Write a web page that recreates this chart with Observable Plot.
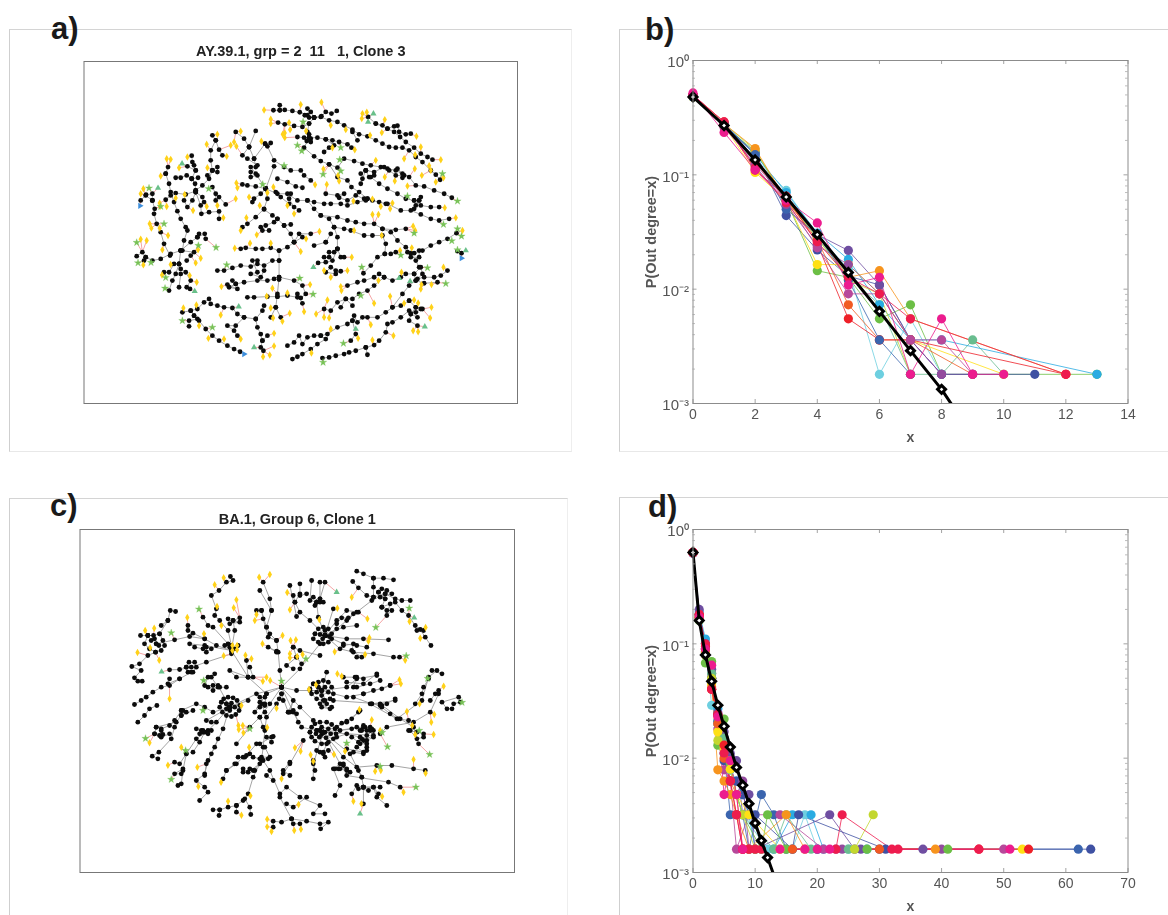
<!DOCTYPE html>
<html>
<head>
<meta charset="utf-8">
<script src="https://cdn.jsdelivr.net/npm/d3@7"></script>
<script src="https://cdn.jsdelivr.net/npm/@observablehq/plot@0.6"></script>
<style>
html,body{margin:0;padding:0;background:#fff;}
#page{position:relative;width:1168px;height:915px;overflow:hidden;background:#fff;font-family:"Liberation Sans",Arial,sans-serif;}
.panel{position:absolute;box-sizing:border-box;}
.panel svg{display:block;overflow:visible;max-width:none;filter:blur(0.5px);}
.tag{position:absolute;font:bold 31px "Liberation Sans",Arial,sans-serif;color:#1a1a1a;line-height:31px;}
</style>
</head>
<body>
<div id="page"></div>
<script>
// ---------- Panel a: tree branches (x,y pairs) ----------
const aBranches = [
[578,150,597,150,612,149,635,152,657,156,680,165,700,172,720,170,745,180,770,185,790,195,815,208,835,222,860,228,885,240,905,250,925,260,945,262,965,262,985,270,1005,290,1025,305,1050,330,1065,343,1078,358],
[597,135,597,150],[680,145,690,155,700,172],[700,172,722,168,735,155,752,160,768,152],[672,165,685,172,700,172],
[592,187,612,192,640,197,665,200,685,190,700,172],[685,232,680,215,685,190],
[650,230,670,232,685,232,710,232,735,237,755,240,775,245,800,252,812,262],[685,222,690,235,678,242,690,245,685,232],
[685,232,670,262,700,288,720,302,745,312,770,322,790,295,820,302,845,310,870,315,900,320,920,325,945,330,965,340,985,350,1005,375,1030,378,1060,390,1090,400,1113,412],
[730,275,745,262,760,255,735,237],[830,240,815,215],[905,195,885,190,862,170],[885,190,920,205,940,198,950,196,955,215,975,222,990,220],[920,205,940,215,958,230,975,245,1000,262,1020,280,1040,290,1055,298],
[745,312,770,350,800,360,812,380,835,395,860,415,875,420,895,425,915,430],[735,400,770,405,790,400,775,412,800,420,825,405,850,415,860,415],
[840,340,855,330,880,335,910,320],[855,330,845,355,840,370],[855,330,865,350,880,345],[925,330,945,345,970,345,950,325,965,352],
[870,350,895,370,920,385,950,400,975,415,1000,420,1020,435,1050,440,1075,440],[1000,420,1015,420,1005,435,1000,445],[1015,420,1020,410],
[920,430,960,450,990,450,1020,462,1050,475,1075,480,1105,475],
// left top tree
[345,390,343,370,333,355,345,330,340,315,335,305,333,286],[345,330,320,318],[333,355,318,345,300,352,285,352],[333,355,352,352],
[345,392,315,402,285,398,270,405,255,418],[345,390,365,375,385,355,395,330,390,300,390,270,405,240,395,225],[405,240,415,268,425,285],[395,330,410,320,410,335],[395,330,380,345],
[345,395,365,410,370,425],[395,380,405,400,405,420,415,410,435,432],[345,395,335,420,320,440,310,420],[345,395,360,435,362,460,385,455,415,453,415,475],
[255,340,262,320],[255,340,265,370,270,395,280,425,290,452,300,475,315,500,320,510,310,540,305,570],
[300,570,330,545,350,530,372,520,375,535],[350,530,355,520],[300,570,340,575,330,585,318,600],[300,570,270,580,240,595,215,600,195,590,185,575,168,587],[190,600,195,590],
[300,570,295,610,280,610,265,635,250,635],[295,610,285,640,275,660,265,690],[295,610,300,625,315,635,330,660,318,680,328,685],[300,640,295,680],
[215,420,195,405,180,420],[215,420,222,445,220,460,228,490,240,515,250,550,268,585],[196,403,215,400,215,420],
// mid hub
[555,385,525,378,500,375,485,372],[555,385,525,340,510,320,525,320,520,295,505,260,490,235,465,215],[505,260,525,212],[553,250,570,248,560,258,580,300,610,320,630,330,660,330,670,345,690,360],[520,295,553,250],
[555,385,580,318],[555,385,560,415,550,445,525,470,500,490,485,500],[555,385,540,400,520,415,515,425],[510,335,510,350,530,345],[505,260,485,285,500,295,530,315],
[555,385,590,400,620,400,650,420,680,420,700,425,730,430,750,430,780,430,800,435,830,425,855,420],[590,355,620,365,645,378,665,382],[630,400,625,415,640,440],[585,395,600,410,625,430,655,450],
[680,420,700,445,720,465,745,475,760,500,770,530,770,565,760,575,745,575,745,590,730,590],[770,565,755,600,735,605,712,607],[770,565,780,590,790,590],[765,630,750,620,735,635,765,640,780,632],
[720,465,770,470,800,480,825,485,850,490,880,490,905,505,930,515,950,540,975,560,990,578,1005,600,1015,620],
[760,500,790,505,810,510,850,525,875,525,905,525,915,550,912,580,890,590,870,615,848,638],[905,505,945,508,975,505],[1127,518,1100,535,1075,545,1050,555,1025,570,1000,578,1015,570,1015,590,990,590,980,575],[912,580,930,580,945,575],[1142,578,1130,572],
// middle tree
[665,530,640,545,620,560,595,570,570,562,545,565,525,565,495,562,480,565],[595,570,595,600,595,650,590,700,585,740,600,770],[585,740,570,770],[595,600,575,600,550,615,530,610,510,618,480,615,455,622,430,630,410,630],[530,600,515,600,530,635,510,640,540,650,550,630],
[595,657,580,655,560,660,530,660,490,665,465,670,455,660],[465,670,445,680,470,685,440,672],[595,650,640,660,665,675,675,700,660,712,650,700,665,728],[590,708,620,705,650,710],[590,708,560,708,520,710,500,710],
[640,545,655,520,690,520],[640,545,630,520,610,495,590,475,575,465,550,447],[590,475,580,485,555,495,540,500,545,510,565,510],[610,495,630,492],[735,545,750,520],[700,555,735,545],
// bottom left
[305,755,330,750,350,745,370,725,385,715,390,730,410,735,430,740,455,742,470,760,490,770,525,775,545,750,550,735],[525,775,530,800,540,820,545,840,560,825],[545,840,540,860,548,870],[490,770,465,795,440,795,460,810,470,825],[340,765,350,775,325,780,325,797],[330,750,340,765,355,780,375,805,395,825,415,840,440,855,460,865,478,873],
// bottom right
[620,855,640,845,655,825,665,850,680,830,700,825,720,825,735,835,710,850,690,865,665,880,635,895,650,888],[720,825,740,820,770,800,800,790,815,780,820,765,830,785,845,770,860,770,890,770,915,755,935,740,960,735,985,720],
[725,892,745,890,765,885,790,880,805,875,825,870,855,860,860,882],[855,860,880,853,895,840,915,815,920,790,935,785,960,770,985,750,1005,755,1025,745],[815,780,825,820,810,840],
[935,740,965,700,985,675,1010,655,1030,650,1060,650,1080,645,1100,630],[1005,660,1025,640,1020,620,1000,640,975,640,960,650,935,660,910,650,895,640,880,650,850,660,830,665,800,675],
[910,650,880,675,860,690,835,700,815,715,795,715,770,725,750,750,730,745],[1000,640,1005,660,1030,668,1070,665],[985,720,1005,740,990,760,985,780,1010,795],[1005,740,1020,745],[1010,770,990,760],[780,740,795,715,815,735]
];
const aYellow = [[550,149],[660,133],[722,126],[570,177],[570,190],[625,187],[612,218],[606,222],[612,232],[628,208],[676,212],[750,195],[795,208],[858,156],[845,160],[843,175],[912,178],[868,225],[903,217],[1007,228],[1020,260],[1003,283],[1080,298],[1045,316],[1050,330],[1088,352],[1023,345],[1065,365],[1002,325],[912,350],[885,300],[970,295],[822,268],[755,262],[728,326],[775,362],[772,345],[942,362],[980,377],[703,373],[738,372],
[410,222],[378,252],[460,245],[450,255],[467,258],[480,213],[542,243],[438,288],[380,322],[320,290],[295,322],[258,295],[270,297],[240,347],[188,385],[180,400],[237,428],[238,438],[258,438],[285,413],[312,402],[337,450],[378,438],[410,435],[428,472],[467,368],[470,382],[465,415],[505,410],[578,380],[560,397],[537,435],[620,435],[640,460],[497,472],[480,510],[528,523],[207,490],[212,503],[237,503],[262,525],[180,536],[198,540],[245,568],[352,568],[345,607],[360,593],[270,612],[188,613],[244,643],[327,645],[348,665],
[462,563],[508,548],[570,548],[660,573],[676,535],[716,513],[422,678],[688,672],[575,683],[620,697],[558,707],[670,753],[577,772],[570,742],[605,782],[627,758],[813,590],[800,630],[750,650],[730,630],[818,422],[875,416],[875,462],[893,462],[900,438],[928,445],[935,428],[1092,442],[1125,472],[1145,510],[997,497],[1003,510],[820,510],[903,525],[993,562],[958,570],
[1088,620],[1020,685],[1022,672],[1052,672],[962,635],[780,678],[782,690],[893,660],[740,718],[706,760],[730,770],[745,772],[750,805],[880,728],[870,792],[832,833],[875,838],[938,825],[928,707],[970,728],[1000,718],[1012,727],[1052,740],[1048,772],[997,810],[1012,813],[692,877],
[308,742],[347,733],[420,763],[355,795],[383,833],[430,835],[480,835],[580,818],[580,856],[547,888],[567,883]];
const aStars = [[667,185],[650,255],[663,272],[780,262],[777,298],[780,332],[727,342],[610,316],[546,372],[384,385],[205,383],[240,438],[250,490],[168,546],[353,555],[406,561],[172,607],[211,606],[255,651],[253,683],[305,780],[395,800],[438,613],[657,653],[697,701],[980,407],[1085,340],[1130,422],[1088,492],[1130,505],[1000,518],[1113,541],[1142,527],[1130,568],[843,620],[960,584],[1040,622],[1095,669],[840,705],[788,848],[727,905]];
const aTriangles = [[878,160],[862,185],[232,383],[304,310],[698,620],[955,653],[988,662],[1155,570],[342,692],[474,738],[520,860],[825,805],[1032,798]];
const aBlue = [[178,436],[1142,593],[490,880]];

// ---------- Panel c: tree branches (x,y pairs) ----------
const cBranches = [
[605,470,600,420,595,365,590,330,570,310,560,290,575,240,570,205,550,155],[575,240,540,180],[560,290,545,240,530,240],[545,240,550,265,565,320,590,330],[590,362,565,350,590,365],[640,350,650,380,620,405,640,415],[640,350,660,360,720,375],[650,380,665,400],
[605,470,660,415,720,340,735,315],[605,470,650,480,690,480,725,480],[605,470,640,545,665,590,730,605],[605,470,560,490,505,440,455,360],[605,470,530,490,450,530],[605,470,570,520,540,560,510,590,470,640],[605,470,660,530,700,570],
[605,490,590,520,560,560,555,600,550,650,545,690,520,740,505,790,490,810],[560,490,555,520,540,500],[605,490,625,545,650,550],[555,545,545,520],[540,560,550,590],[625,545,640,510,630,545],
// hub upper right
[735,315,770,295,800,270,830,245,875,210,915,190],[735,315,790,290,830,285],[735,315,800,325,850,325,925,328],[735,315,790,340,830,345,860,350],[735,315,780,355,820,365,880,370,940,380,958,380],[735,315,770,270,800,240,835,245],
[735,315,690,270,660,245,645,215,640,195],[645,215,660,190,660,160],[650,258,630,165],[735,315,715,260,710,215,690,210,695,150],[710,215,720,205,720,155],[720,205,735,155],[710,215,730,215],[735,315,760,235],
[705,310,715,295,730,290,745,295,755,310,755,325,745,335,730,340,715,335,700,325,705,310],[790,345,820,340,815,360,845,380,830,380],[720,312,735,300,748,318,728,325],[770,280,785,262,805,262,820,250],[700,200,720,215,705,225],[680,190,660,195],
// top right
[830,122,850,130,880,143,910,143,940,148],[880,143,880,170,880,200],[818,153,835,172,860,195,880,200,915,190,945,205,965,210,990,210],[895,185,905,175,920,180,935,190,900,200,915,205,895,185],[905,230,920,240,935,240,920,255,930,220,905,230],[915,205,905,230],[945,215,965,240,985,255,1005,285,1020,297,1035,320,1052,345],[1010,300,1030,300],
// left hub
[205,315,222,315,240,310,250,330,255,345,245,360,228,365,210,355,195,340,205,315],[215,330,225,325,238,345,230,340],[230,340,285,328,330,318,375,325,410,345,455,360],[240,310,265,270,272,240,288,243],[245,285,265,270],[228,365,205,375,180,400,157,408,185,420,165,442,175,452,188,452],[183,315,205,315],
// hub left of centre
[435,345,450,350,465,355,475,345],[455,360,375,345,330,340,345,350,370,355,380,350,380,365,395,355],[455,360,465,300,460,270,480,262],[445,265,450,280,480,275,460,270],[455,345,445,300,420,270,405,255,410,235,395,195,418,180,440,155,460,150,452,138],[445,340,400,290,385,285,370,260],[325,285,325,300,340,308,375,325],
// hub far left
[320,410,328,395,345,395,350,410,340,425,325,425,320,410],[455,370,380,395,335,410,300,417,270,418],[335,425,300,445,270,465,245,470,220,485,200,500,185,510,165,522],[270,445,265,460,300,445],[232,525,210,535,195,555,175,575],
// centre-left dense hub
[425,515,432,505,445,500,460,502,472,510,480,525,478,540,468,552,455,558,440,555,428,545,420,530,425,515],[440,520,455,518,465,530,450,540,440,535,440,520],[450,530,505,510],[450,530,400,545,375,530,350,520,305,540],[305,540,285,570,270,585,245,595],[230,590,225,610,245,620,270,610],
[450,530,410,575,385,600,350,625,320,670,300,700,285,695],[320,670,310,720,305,760,295,765],[450,530,430,595,405,650,385,690,375,730,350,750,375,770,385,785,360,810],[450,530,415,465,400,465,375,465,385,440],[450,530,380,570,395,575],[505,440,450,420,470,440,520,440,510,410],[505,440,500,390],[440,470,420,470],[285,590,275,625,238,665,218,677,235,685],
[245,600,240,615,225,610,250,612],[340,665,360,635,375,605,395,600],[305,730,285,730,310,715],[415,625,395,670,380,700,375,735],[310,540,320,545,305,555,340,540],[370,600,360,610,385,610],[385,470,400,480,415,470,395,440,405,430],[555,500,540,515,525,545,540,530,555,525],[610,510,598,505],[640,540,655,575],[575,635,560,620,580,618],[475,680,495,680,510,670,520,680,540,685,565,685],[490,725,510,715,525,720],[560,735,580,750],[465,700,440,720],
// hub right of centre
[700,460,715,455,730,450,745,455,755,470,760,490,750,505,730,510,710,505,695,490,690,475,700,460],[715,470,735,470,745,485,725,495,710,485,715,470],[725,480,800,470,830,445,890,435],[725,480,800,500,850,490,930,465],[725,480,740,425],[725,480,740,520,755,530],[830,440,820,470],[800,455,850,460,890,430],[735,510,725,530,750,535,720,520],[830,470,870,460,900,450],[850,490,880,480,905,475,930,465],[790,440,825,440,850,445],[820,500,875,520,900,525,920,520,945,505],
// big hub
[690,605,695,590,705,580,720,575,740,575,755,582,765,595,768,610,760,625,745,635,725,640,705,632,695,620,690,605],[710,600,725,590,745,595,752,610,738,622,718,620,708,610,710,600],[720,600,735,605,725,612,720,600],
[730,605,800,575,840,540],[730,605,850,590,870,590],[730,605,880,615,850,630,860,650],[730,605,810,670,845,740,850,770,900,770],[730,605,790,680,830,710,890,705,935,705,1000,715,1035,720],[730,605,780,700,760,715,780,765,765,795],[730,605,700,700,700,745],[670,630,630,700,610,730],[740,640,730,665,710,660,735,680],[815,620,835,635,860,615,880,600,845,600],[800,655,850,665,830,650],
[850,770,830,765,815,790],[850,770,850,820],[850,770,880,770,890,800,920,825],[800,735,925,755,960,770],[775,715,800,720,790,705],
[770,590,785,578,800,572,815,565,835,545],[780,600,815,595,830,590,855,590],[770,620,800,610,840,620,860,630,880,620,870,600],[850,585,840,600,860,600,875,595],[845,625,860,640,840,640],[705,720,700,690],[730,670,720,665,745,660],[820,665,850,670,860,660],[845,740,835,720],[790,700,765,715,780,715,800,715,810,725],[835,775,865,780,880,770,895,790],
// right arm
[760,510,900,520,960,565,1000,590,1015,640],[870,520,950,565,1025,510,1045,440,1070,420,1055,420,1085,430],[1075,490,1050,545,1000,575,920,590,900,610],[1115,535,1100,535,1085,515,1135,500,1140,515,1120,520],[990,600,1010,625,1030,620],[905,525,875,520,945,510],[905,530,930,550,955,565,985,570],[1005,520,1025,490,1030,470,1045,445],[1050,510,1065,490,1075,480],[985,600,1010,605,1030,610],
// lower centre
[550,690,570,720,600,790,620,770,660,800,720,825,700,850,735,850],[600,800,635,865,680,872,720,880,745,875,722,895],[635,865,605,875,580,872,580,890],[635,865,640,880,660,880],[620,820,640,830,680,800],
[400,838,420,838,445,830,470,825,495,805,510,830,513,852],[470,825,470,845],[420,838,418,855],[490,680,470,700,440,720,430,745],[490,715,505,725,540,700,520,720],[545,680,570,680,555,650,530,640,500,675],[575,620,540,640],[630,735,610,720,630,695],
[365,600,350,595,370,605],[230,590,290,575,305,555]
];
const cYellow = [[432,142],[405,163],[412,228],[470,208],[462,232],[323,261],[197,300],[224,293],[373,310],[425,285],[212,352],[174,366],[239,389],[458,345],[472,345],[472,358],[458,360],[432,376],[497,374],[515,385],[538,140],[570,132],[530,252],[525,270],[548,340],[608,315],[632,330],[648,328],[630,370],[630,382],[652,378],[668,372],[622,186],[630,238],[718,267],[772,233],[815,200],[862,265],[868,322],[865,332],[855,372],[764,364],[988,273],[1036,291],[1020,323],[975,389],[549,452],[560,440],[571,450],[708,463],[687,477],[772,430],[785,437],[958,448],[962,460],[1090,467],[1018,520],[980,543],[1062,552],[1053,575],[996,585],[1060,612],[1005,612],[270,505],[485,525],[590,533],[476,585],[489,585],[477,597],[491,607],[562,591],[508,650],[838,537],[875,568],[900,600],[645,652],[662,662],[692,673],[700,692],[762,672],[795,662],[305,650],[210,637],[265,704],[353,710],[356,768],[424,755],[605,745],[885,722],[902,720],[1000,687],[1036,728],[970,785],[906,798],[820,812],[844,820],[512,796],[445,812],[485,854],[656,822],[562,866],[562,889],[575,903],[643,900],[663,896]];
const cStars = [[358,236],[275,307],[372,450],[370,540],[510,595],[198,624],[318,660],[275,747],[605,452],[678,385],[887,291],[978,376],[987,233],[1042,444],[1145,516],[1017,600],[906,606],[922,649],[1048,672],[900,708],[1007,770],[800,638]];
const cTriangles = [[770,185],[1002,262],[246,424],[840,850]];

// ---------- Panels b and d: degree distributions ----------
const colorNames = ["cyan","sky","blue","indigo","purple","violet","magenta","green","teal","lime","yellow","orange","orangered","red","crimson","pink"];
const colorValues = ["#6dcfe0","#29abe2","#3a64ae","#3f51a3","#6f4ea1","#934b9e","#b7489a","#6cbf45","#69bd8f","#c3d72e","#ffe014","#f7941d","#f15a22","#ee2028","#ee1c4e","#ec1c8e"];
const bNames = ["green","teal","cyan","sky","indigo","purple","lime","yellow","orange","orangered","red","blue","violet","magenta","crimson","pink"];
const bSeries = [
[0,.49,1,.27,2,.16,3,.060,4,.0145,5,.0127,6,.0055,7,.0073,8,.0018,13,.0018],
[0,.50,1,.27,2,.14,3,.062,4,.028,5,.013,6,.0073,7,.0018,8,.0018,9,.0036,10,.0018],
[0,.50,1,.27,2,.14,3,.073,4,.030,5,.015,6,.0018,7,.0055,8,.0018],
[0,.49,1,.28,2,.15,3,.070,4,.031,5,.0182,6,.0073,7,.0036,8,.0036,13,.0018],
[0,.50,1,.27,2,.155,3,.044,4,.022,5,.013,6,.0109,7,.0036,8,.0018,9,.0018,11,.0018],
[0,.49,1,.28,2,.14,3,.060,4,.030,5,.0218,6,.0109,7,.0036,8,.0018,9,.0018],
[0,.48,1,.28,2,.165,3,.060,4,.028,5,.012,6,.0091,7,.0018],
[0,.48,1,.27,2,.105,3,.060,4,.0164,5,.0164,6,.0091,7,.0036,10,.0018],
[0,.50,1,.28,2,.17,3,.060,4,.030,5,.0127,6,.0145,7,.0055,12,.0018],
[0,.49,1,.27,2,.13,3,.060,4,.027,5,.0073,6,.0036,7,.0036,9,.0018],
[0,.50,1,.29,2,.11,3,.065,4,.025,5,.0055,6,.0036,7,.0036,12,.0018],
[0,.48,1,.28,2,.15,3,.050,4,.030,5,.012,6,.0036,7,.0018],
[0,.50,1,.27,2,.12,3,.055,4,.024,5,.0164,6,.0091,7,.0036,8,.0018],
[0,.50,1,.26,2,.125,3,.060,4,.023,5,.0091,6,.0091,7,.0036,8,.0036,9,.0018],
[0,.50,1,.29,2,.115,3,.057,4,.026,5,.0127,6,.0091,7,.0055,12,.0018],
[0,.52,1,.235,2,.11,3,.060,4,.038,5,.0109,6,.0127,7,.0018,8,.0055,9,.0018,10,.0018]
];
const bMeanX = [0,1,2,3,4,5,6,7,8,9];
const bMeanY = [.48,.27,.135,.064,.030,.014,.0064,.0029,.00133,.00052];
const dNames = colorNames;
const dSeries = [
[0,.63,1,.18,2,.1,3,.029,4,.021,5,.012,6,.0079,7,.0048,8,.0032,12,.0016,16,.0016,18,.0032,20,.0016,25,.0016],
[0,.63,1,.19,2,.11,3,.05,4,.027,5,.015,6,.0079,7,.0063,8,.0048,9,.0032,10,.0016,13,.0016,16,.0032,19,.0032,21,.0016,28,.0016],
[0,.63,1,.18,2,.1,3,.05,4,.021,5,.011,6,.0032,7,.0032,8,.0032,9,.0016,11,.0048,13,.0032,15,.0016,20,.0016,30,.0016,62,.0016],
[0,.63,1,.17,2,.09,3,.05,4,.024,5,.0095,6,.0063,7,.0063,8,.0048,9,.0032,10,.0032,16,.0016,17,.0032,31,.0016,64,.0016],
[0,.62,1,.2,2,.09,3,.06,4,.025,5,.017,6,.011,7,.0095,8,.0032,9,.0048,10,.0016,22,.0032,26,.0016,27,.0016,37,.0016],
[0,.62,1,.18,2,.085,3,.055,4,.02,5,.012,6,.0095,7,.0048,8,.0063,9,.0016,24,.0016,40,.0016],
[0,.63,1,.17,2,.08,3,.05,4,.018,5,.0079,6,.0063,7,.0016,9,.0032,14,.0032,21,.0016,23,.0016,50,.0016],
[0,.63,1,.16,2,.068,3,.07,4,.013,5,.022,6,.009,7,.0048,8,.0032,11,.0016,12,.0032,15,.0016,28,.0016,41,.0016],
[0,.63,1,.17,2,.08,3,.055,4,.02,5,.015,6,.008,7,.0048,8,.0032,13,.0016,15,.0032,19,.0016,25,.0016],
[0,.63,1,.17,2,.08,3,.05,4,.0143,5,.0127,6,.0095,7,.0048,8,.0032,10,.0016,26,.0016,29,.0032],
[0,.63,1,.17,2,.09,3,.045,4,.017,5,.012,6,.008,7,.0048,9,.0032,14,.0016,53,.0016],
[0,.63,1,.17,2,.085,3,.042,4,.0079,5,.0063,6,.0048,7,.0032,9,.0016,15,.0032,18,.0016,39,.0016],
[0,.63,1,.18,2,.09,3,.04,4,.02,5,.01,6,.0063,7,.0048,8,.0016,16,.0016,30,.0016],
[0,.63,1,.18,2,.095,3,.04,4,.024,5,.013,6,.0063,7,.0032,8,.0016,46,.0016,54,.0016],
[0,.63,1,.18,2,.1,3,.04,4,.024,5,.0111,6,.0063,7,.0032,8,.0016,9,.0016,10,.0016,11,.0016,23,.0016,24,.0032,32,.0016,33,.0016,46,.0016],
[0,.63,1,.17,2,.09,3,.065,4,.023,5,.0048,6,.0095,7,.0048,8,.0016,14,.0016,18,.0016,20,.0016,22,.0016,51,.0016]
];
const dMeanX = [0,1,2,3,4,5,6,7,8,9,10,11,12,13];
const dMeanY = [.63,.16,.08,.047,.029,.019,.0125,.0083,.0058,.004,.0027,.0019,.00135,.00095];

const yMajor = [1,0.1,0.01,0.001];
const yMinor = [.9,.8,.7,.6,.5,.4,.3,.2,.09,.08,.07,.06,.05,.04,.03,.02,.009,.008,.007,.006,.005,.004,.003,.002];
const yLabels = ["10\u2070","10\u207B\u00B9","10\u207B\u00B2","10\u207B\u00B3"];
const bTicks = [0,2,4,6,8,10,12,14];
const dTicks = [0,10,20,30,40,50,60,70];

const FONT = '"Liberation Sans",Arial,sans-serif';
const page = document.getElementById("page");

function addPanel(svg, box, border){
  const d = document.createElement("div");
  d.className = "panel";
  Object.assign(d.style,{left:box.left+"px",top:box.top+"px",width:(box.width-(border.right?2:0))+"px",height:(box.height-(border.bottom?1:0))+"px",
    borderLeft:"1px solid #cfcfcf",borderTop:"1px solid #d4d4d4",boxSizing:"content-box"});
  if(border.right) d.style.borderRight = "1px solid #eeeeee";
  if(border.bottom) d.style.borderBottom = "1px solid #e8e8e8";
  svg.style.position="absolute"; svg.style.left="-1px"; svg.style.top="-1px"; svg.style.maxWidth="none";
  d.appendChild(svg); page.appendChild(d);
}
function addTag(t,l,tp){
  const e=document.createElement("div"); e.className="tag"; e.textContent=t;
  e.style.left=l+"px"; e.style.top=tp+"px"; page.appendChild(e);
}

function network({branches,yellow,stars,triangles,blue,title,box,m,xd,yd,border}){
  const rows = branches.flatMap((b,i)=>d3.range(0,b.length,2).map(j=>({x:b[j],y:b[j+1],z:i})));
  const toObj = a=>a.map(([x,y])=>({x,y}));
  const leaves = [...yellow,...stars,...triangles,...blue].map(([x,y])=>{
    const p = d3.least(rows,r=>(r.x-x)**2+(r.y-y)**2);
    return {x,y,px:p.x,py:p.y};
  });
  const svg = Plot.plot({
    width:box.width,height:box.height,marginLeft:m[0],marginRight:m[1],marginTop:m[2],marginBottom:m[3],
    x:{domain:xd,axis:null},y:{domain:yd,axis:null},style:{background:"transparent"},
    marks:[
      Plot.line(rows,{x:"x",y:"y",z:"z",stroke:"#9a9a9a",strokeWidth:0.9}),
      Plot.link(leaves,{x1:"px",y1:"py",x2:"x",y2:"y",stroke:"#f4a6a6",strokeWidth:1}),
      Plot.dot(rows,{x:"x",y:"y",r:2.4,fill:"#0c0c0c"}),
      Plot.dot(toObj(yellow),{x:"x",y:"y",symbol:"diamond",r:1.4,fill:"#ffd21a",stroke:"#ffd21a",strokeWidth:1.4}),
      Plot.dot(toObj(stars),{x:"x",y:"y",symbol:"star",r:2.3,fill:"#78c257",stroke:"#78c257",strokeWidth:0.3}),
      Plot.dot(toObj(triangles),{x:"x",y:"y",symbol:"triangle",r:2.3,fill:"#69c08a"}),
      Plot.dot(toObj(blue),{x:"x",y:"y",symbol:"triangle",rotate:90,r:2.3,fill:"#3d8fdc"}),
      Plot.frame({stroke:"#777",strokeWidth:1}),
      Plot.text([title],{frameAnchor:"top",lineAnchor:"bottom",dy:-6,fontSize:14.5,fontWeight:"bold",fontFamily:FONT,fill:"#222"})
    ]
  });
  addPanel(svg,box,border);
}

function distribution({series,names,meanX,meanY,xd,xTicks,box,m,border}){
  const rows = series.flatMap((s,i)=>d3.range(0,s.length,2).map(j=>({x:s[j],y:s[j+1],name:names[i]})));
  const mean = meanX.map((x,i)=>({x,y:meanY[i]}));
  const H = box.height-m[2]-m[3], W = box.width-m[0]-m[1];
  const svg = Plot.plot({
    width:box.width,height:box.height,marginLeft:m[0],marginRight:m[1],marginTop:m[2],marginBottom:m[3],
    x:{domain:xd,axis:null},y:{type:"log",domain:[1e-3,1],axis:null},
    color:{domain:colorNames,range:colorValues},style:{background:"transparent"},
    marks:[
      Plot.line(rows,{x:"x",y:"y",z:"name",stroke:"name",strokeWidth:0.8}),
      Plot.dot(rows,{x:"x",y:"y",fill:"name",r:4.6}),
      Plot.line(mean,{x:"x",y:"y",stroke:"#000",strokeWidth:3,clip:true}),
      Plot.dot(mean.filter(d=>d.y>=1e-3),{x:"x",y:"y",symbol:"diamond2",r:3.6,fill:"#fff",stroke:"#000",strokeWidth:3}),
      Plot.frame({stroke:"#8c8c8c",strokeWidth:1}),
      Plot.ruleX(xTicks,{x:d=>d,insetTop:H-4,stroke:"#8c8c8c",strokeWidth:0.8}),
      Plot.ruleX(xTicks,{x:d=>d,insetBottom:H-4,stroke:"#8c8c8c",strokeWidth:0.8}),
      Plot.ruleY(yMajor,{y:d=>d,insetRight:W-4,stroke:"#8c8c8c",strokeWidth:0.8}),
      Plot.ruleY(yMajor,{y:d=>d,insetLeft:W-4,stroke:"#8c8c8c",strokeWidth:0.8}),
      Plot.ruleY(yMinor,{y:d=>d,insetRight:W-2.5,stroke:"#a0a0a0",strokeWidth:0.7}),
      Plot.ruleY(yMinor,{y:d=>d,insetLeft:W-2.5,stroke:"#a0a0a0",strokeWidth:0.7}),
      Plot.text(xTicks,{x:d=>d,text:d=>String(d),frameAnchor:"bottom",dy:15,fontSize:14,fontFamily:FONT,fill:"#555"}),
      Plot.text(yMajor,{y:d=>d,text:(d,i)=>yLabels[i],frameAnchor:"left",textAnchor:"end",dx:-4,dy:2,fontSize:15,fontFamily:FONT,fill:"#555"}),
      Plot.text(["x"],{frameAnchor:"bottom",dy:38,fontSize:14,fontWeight:"bold",fontFamily:FONT,fill:"#555"}),
      Plot.text(["P(Out degree=x)"],{frameAnchor:"left",textAnchor:"middle",dx:-42,rotate:-90,fontSize:14.5,fontWeight:"bold",fontFamily:FONT,fill:"#555"})
    ]
  });
  addPanel(svg,box,border);
}

network({branches:aBranches,yellow:aYellow,stars:aStars,triangles:aTriangles,blue:aBlue,
  title:"AY.39.1, grp = 2\u00a0\u00a011\u00a0\u00a0\u00a01, Clone 3",
  box:{left:9,top:29,width:563,height:422},m:[74.5,55,32,48],xd:[10,1310],yd:[1028,4],border:{right:true,bottom:true}});
distribution({series:bSeries,names:bNames,meanX:bMeanX,meanY:bMeanY,xd:[0,14],xTicks:bTicks,
  box:{left:619,top:29,width:549,height:422},m:[73.5,40.5,31,48],border:{bottom:true}});
network({branches:cBranches,yellow:cYellow,stars:cStars,triangles:cTriangles,blue:[],
  title:"BA.1, Group 6, Clone 1",
  box:{left:9,top:498,width:559,height:417},m:[70.5,54,31,43],xd:[2,1302],yd:[1026,-3],border:{right:true}});
distribution({series:dSeries,names:dNames,meanX:dMeanX,meanY:dMeanY,xd:[0,70],xTicks:dTicks,
  box:{left:619,top:497,width:549,height:418},m:[73.5,40.5,32,43],border:{}});
addTag("a)",51,13); addTag("b)",645,14); addTag("c)",50,490); addTag("d)",648,491);
</script>
</body>
</html>
